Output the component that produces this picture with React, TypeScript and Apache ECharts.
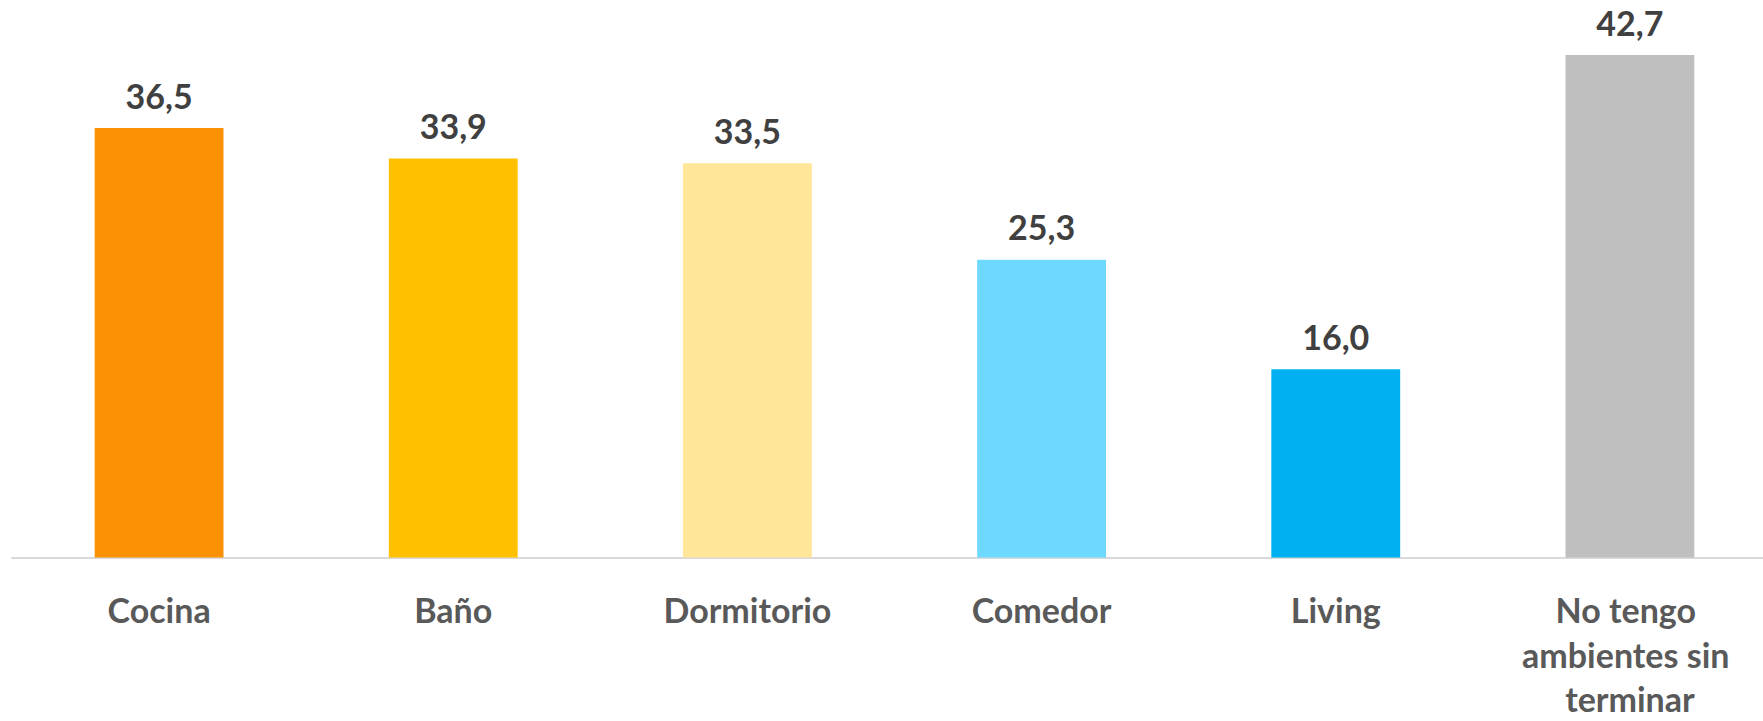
import React, { useEffect, useRef } from "react";
import * as echarts from "echarts";

const categories = ["Cocina", "Baño", "Dormitorio", "Comedor", "Living", "No tengo ambientes sin terminar"];
const values = [36.5, 33.9, 33.5, 25.3, 16.0, 42.7];
const barColors = ["#FB9105", "#FFC000", "#FFE699", "#6DD9FF", "#00B0F0", "#BFBFBF"];

const FONT = "Lato, 'Open Sans', sans-serif";

export default function App() {
  const ref = useRef<HTMLDivElement>(null);
  useEffect(() => {
    if (!ref.current) return;
    const chart = echarts.init(ref.current, undefined, { renderer: "svg" });
    chart.setOption({
      animation: false,
      backgroundColor: "#ffffff",
      grid: { left: 12, right: 3, top: 28, bottom: 156, containLabel: false },
      xAxis: {
        type: "category",
        data: categories,
        axisLine: { show: true, lineStyle: { color: "#d9d9d9", width: 2 } },
        axisTick: { show: false },
        axisLabel: {
          interval: 0,
          margin: 30,
          color: "#595959",
          fontFamily: FONT,
          fontWeight: "bold",
          fontSize: 34,
          lineHeight: 44.5,
          width: 245,
          overflow: "break",
        },
      },
      yAxis: {
        type: "value",
        min: 0,
        max: 45,
        show: false,
        splitLine: { show: false },
      },
      series: [
        {
          type: "bar",
          barWidth: "43.8%",
          data: values.map((v, i) => ({ value: v, itemStyle: { color: barColors[i] } })),
          label: {
            show: true,
            position: "top",
            distance: 16,
            color: "#404040",
            fontFamily: FONT,
            fontWeight: "bold",
            fontSize: 34,
            formatter: (p: any) => p.value.toFixed(1).replace(".", ","),
          },
        },
      ],
    });
    return () => chart.dispose();
  }, []);
  return (
    <div style={{ position: "fixed", left: 0, top: 0, width: 1763, height: 721, overflow: "hidden" }}>
      <div ref={ref} style={{ width: 1780, height: 721 }} />
    </div>
  );
}
